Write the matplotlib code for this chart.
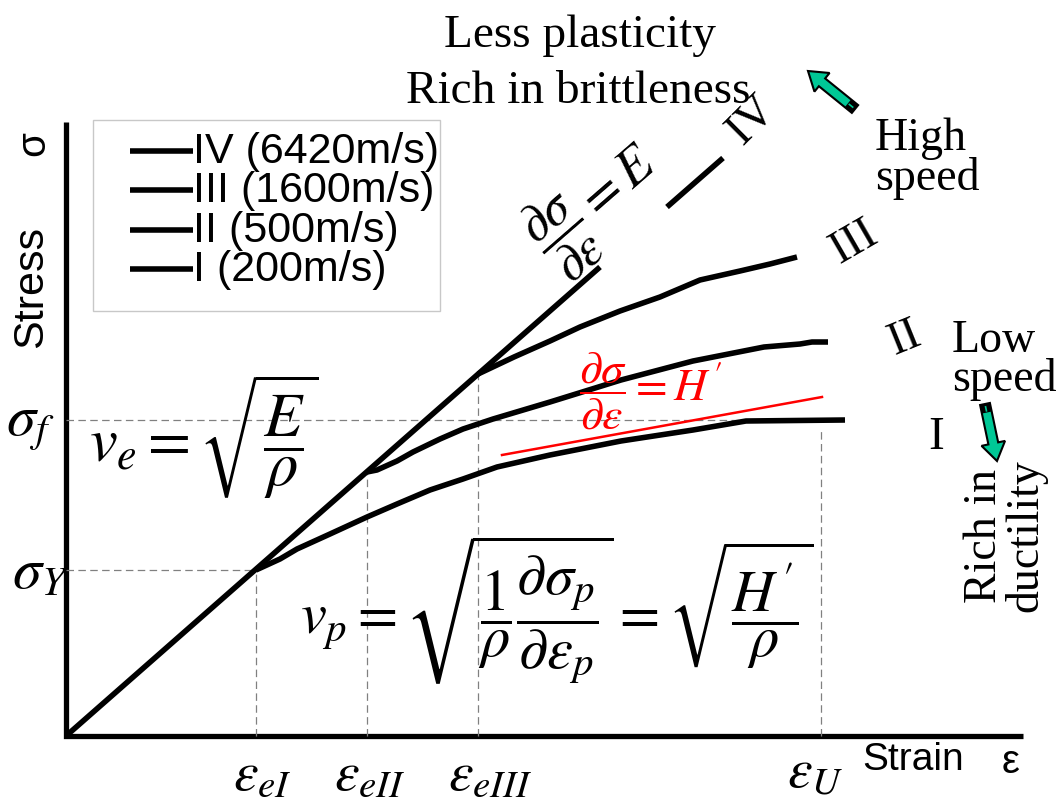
import matplotlib
matplotlib.use("Agg")
import matplotlib.pyplot as plt
from matplotlib.patches import Rectangle, FancyArrow

plt.rcParams['mathtext.fontset'] = 'stix'
SANS = 'Liberation Sans'
SERIF = 'Liberation Serif'

# ---------------------------
# data (schematic units: strain, stress)
# ---------------------------
eps_elastic = [0.0, 5.34]
sig_elastic = [0.0, 4.69]
eps_iv = [6.01, 6.57]
sig_iv = [5.29, 5.78]

eps_I = [1.90, 2.14, 2.31, 2.64, 3.01, 3.31, 3.64, 3.97, 4.31, 4.84, 5.55, 6.27, 6.80, 7.79]
sig_I = [1.66, 1.77, 1.87, 2.02, 2.19, 2.32, 2.46, 2.57, 2.69, 2.81, 2.95, 3.06, 3.15, 3.16]

eps_II = [3.01, 3.11, 3.31, 3.47, 3.74, 3.97, 4.12, 4.27, 4.84, 5.55, 6.27, 6.98, 7.34, 7.46, 7.62]
sig_II = [2.64, 2.66, 2.75, 2.84, 2.97, 3.07, 3.12, 3.17, 3.34, 3.56, 3.75, 3.89, 3.92, 3.94, 3.94]

eps_III = [4.12, 4.48, 4.84, 5.14, 5.54, 5.94, 6.34, 6.74, 7.04, 7.31]
sig_III = [3.62, 3.79, 3.95, 4.09, 4.25, 4.39, 4.56, 4.65, 4.72, 4.79]

eps_yield = [1.90, 3.01, 4.12]      # eps_eI, eps_eII, eps_eIII
sig_yield = [1.66, 2.64, 3.62]
eps_u = 7.55
sig_f = 3.16
sig_y = 1.66

eps_h = [4.36, 7.56]                # tangent dσ/dε = H'
sig_h = [2.81, 3.39]

legend_labels = ["IV (6420m/s)", "III (1600m/s)", "II (500m/s)", "I (200m/s)"]
eps_labels = [r'$ε_{eI}$', r'$ε_{eII}$', r'$ε_{eIII}$']


def px(x, y):
    # pixel position of the reference -> data units
    return (x - 66) / 100.0, (737 - y) / 100.0


fig = plt.figure(figsize=(10.6, 8.03), dpi=100)
ax = fig.add_axes([0, 0, 1, 1])
ax.set_xlim(-0.66, 9.94)
ax.set_ylim(-0.66, 7.37)
ax.axis('off')

# axes
ax.plot([0, 0, 9.57], [6.14, 0, 0], color='k', lw=3.8,
        solid_joinstyle='miter', solid_capstyle='butt')

# guide lines
dash = dict(color='#808080', lw=0.9, ls=(0, (6, 3.5)))
ax.plot([0, eps_u], [sig_f, sig_f], **dash)
ax.plot([0, eps_yield[0]], [sig_y, sig_y], **dash)
for e, s in zip(eps_yield, sig_yield):
    ax.plot([e, e], [0, s], **dash)
ax.plot([eps_u, eps_u], [0, sig_f - 0.1], **dash)

# curves
cv = dict(color='k', lw=4.0, solid_capstyle='butt', solid_joinstyle='round')
ax.plot(eps_elastic, sig_elastic, **cv)
ax.plot(eps_iv, sig_iv, **cv)
ax.plot(eps_III, sig_III, **cv)
ax.plot(eps_II, sig_II, **cv)
ax.plot(eps_I, sig_I, **cv)
ax.plot(eps_h, sig_h, color='red', lw=1.8)

# legend (drawn by hand to match the boxed layout)
x0, y0 = px(93, 312)
ax.add_patch(Rectangle((x0, y0), 3.47, 1.91, fill=False, ec='#c8c8c8', lw=1.0))
for lab, yy in zip(legend_labels, [152, 191, 231, 270]):
    xa, ya = px(130, yy)
    xb, _ = px(193, yy)
    ax.plot([xa, xb], [ya, ya], color='k', lw=4.0, solid_capstyle='butt')
    ax.text(xb, ya, lab, family=SANS, fontsize=31, ha='left', va='center')

# axis titles
ax.text(*px(31, 287), 'Stress', family=SANS, fontsize=31, rotation=90,
        ha='center', va='center')
ax.text(*px(33, 144), 'σ', family=SANS, fontsize=29, rotation=90,
        ha='center', va='center')
ax.text(*px(862, 760), 'Strain', family=SANS, fontsize=28, ha='left', va='center')
ax.text(*px(1011, 762), 'ε', family=SANS, fontsize=29, ha='center', va='center')

# tick-like labels
ax.text(*px(30, 425), r'$\sigma_f$', fontsize=42, ha='center', va='center')
ax.text(*px(40, 572), r'$\sigma_Y$', fontsize=42, ha='center', va='center')
for lab, xx in zip(eps_labels, [262, 370, 490]):
    ax.text(*px(xx, 775), lab, fontsize=40, ha='center', va='center')
ax.text(*px(815, 772), r'$ε_U$', fontsize=40, ha='center', va='center')

# curve names
ax.text(*px(752, 120), 'IV', family=SERIF, fontsize=34, rotation=45,
        rotation_mode='anchor', ha='center', va='center')
ax.text(*px(854, 242), 'III', family=SERIF, fontsize=34, rotation=30,
        rotation_mode='anchor', ha='center', va='center')
ax.text(*px(905, 339), 'II', family=SERIF, fontsize=34, rotation=22,
        rotation_mode='anchor', ha='center', va='center')
ax.text(*px(936, 438), 'I', family=SERIF, fontsize=34,
        ha='center', va='center')

# annotations
ax.text(*px(580, 47), 'Less plasticity', family=SERIF, fontsize=34,
        ha='center', va='baseline')
ax.text(*px(578, 103), 'Rich in brittleness', family=SERIF, fontsize=34,
        ha='center', va='baseline')
ax.text(*px(875, 118), 'High\nspeed', family=SERIF, fontsize=33, ha='left',
        va='top', linespacing=0.9)
ax.text(*px(952, 320), 'Low\nspeed', family=SERIF, fontsize=33, ha='left',
        va='top', linespacing=0.87)
ax.text(*px(1005, 612), 'Rich in\nductility', family=SERIF, fontsize=33,
        rotation=90, ha='center', va='bottom', linespacing=0.95)

# formulas
ax.text(*px(597, 205), r'$\dfrac{\partial\sigma}{\partial ε}=E$', fontsize=38,
        rotation=41, rotation_mode='anchor', ha='center', va='center')
ax.text(*px(651, 391), r"$\dfrac{\partial\sigma}{\partial ε}=H\,'$", fontsize=33,
        color='red', ha='center', va='center')
ax.text(*px(204, 437), r'$v_e=\sqrt{\dfrac{E}{\rho}}$', fontsize=45,
        ha='center', va='center')
ax.text(*px(557, 610),
        r"$v_p=\sqrt{\dfrac{1}{\rho}\dfrac{\partial\sigma_p}{\partial ε_p}}=\sqrt{\dfrac{H\,'}{\rho}}$",
        fontsize=42, ha='center', va='center')

# green arrows
green = '#00C896'
for tail, tip in [((855, 110), (808, 72)), ((985, 405), (997, 462))]:
    tx, ty = px(*tail)
    hx, hy = px(*tip)
    dx, dy = hx - tx, hy - ty
    ax.add_patch(FancyArrow(tx, ty, dx, dy, width=0.10, head_width=0.24,
                            head_length=0.18, length_includes_head=True,
                            fc=green, ec='k', lw=1.5, zorder=3))
    ax.plot([tx, tx + 0.15 * dx], [ty, ty + 0.15 * dy], color='k', lw=7.0,
            solid_capstyle='butt', zorder=4)
    ax.plot([tx + 0.05 * dx, tx + 0.12 * dx], [ty + 0.05 * dy, ty + 0.12 * dy],
            color=green, lw=1.2, zorder=5)

fig.savefig("out.png", dpi=100)
